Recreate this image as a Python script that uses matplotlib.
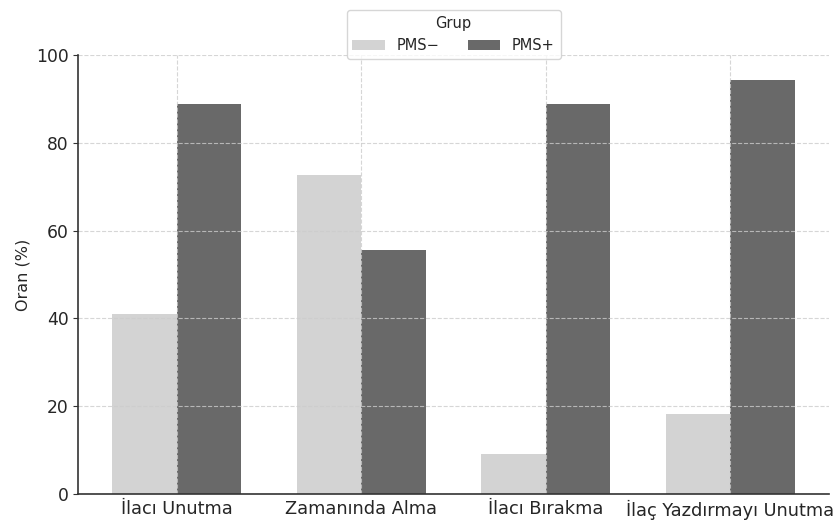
import numpy as np
import matplotlib.pyplot as plt

categories = ["İlacı Unutma", "Zamanında Alma", "İlacı Bırakma", "İlaç Yazdırmayı Unutma"]
pms_minus = [40.9, 72.7, 9.1, 18.2]
pms_plus = [88.9, 55.6, 88.9, 94.4]
groups = ["PMS−", "PMS+"]
colors = ["#d3d3d3", "#696969"]

plt.rcParams['font.family'] = ['DejaVu Sans']
text_color = "#262626"

fig = plt.figure(figsize=(8.4, 5.2), dpi=100)
ax = fig.add_axes([0.093, 0.05, 0.894, 0.844])

x = np.arange(len(categories))
width = 0.35
ax.bar(x - width / 2, pms_minus, width, color=colors[0], label=groups[0])
ax.bar(x + width / 2, pms_plus, width, color=colors[1], label=groups[1])

ax.set_ylim(0, 100)
ax.set_xticks(x)
ax.set_xticklabels(categories, fontsize=12.8, color=text_color)
ax.tick_params(axis='y', labelsize=12.3, labelcolor=text_color, color="#333333")
ax.tick_params(axis='x', length=0, pad=4)
ax.set_ylabel("Oran (%)", fontsize=11.5, color=text_color)

ax.grid(True, linestyle='--', color='#cccccc', alpha=0.8, linewidth=0.8)
for side in ['top', 'right']:
    ax.spines[side].set_visible(False)
for side in ['left', 'bottom']:
    ax.spines[side].set_color('#333333')
    ax.spines[side].set_linewidth(1.2)

leg = ax.legend(title="Grup", loc='upper center', bbox_to_anchor=(0.5, 1.12),
                ncol=2, fontsize=10.5, title_fontsize=10.5, frameon=True,
                handlelength=2.2, columnspacing=2.0)
leg.get_frame().set_edgecolor('#cccccc')
for t in leg.get_texts():
    t.set_color(text_color)
leg.get_title().set_color(text_color)

fig.savefig("out.png", dpi=100)
